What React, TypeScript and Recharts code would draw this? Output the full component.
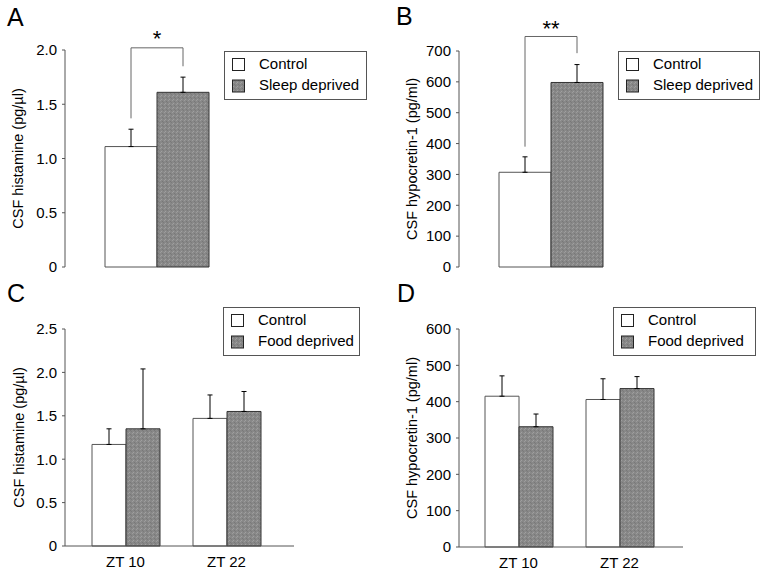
import React from "react";
import { BarChart, Bar, XAxis, YAxis, ErrorBar, Cell, ReferenceLine } from "recharts";

const FONT = "'Liberation Sans', Arial, Helvetica, sans-serif";

// A / B: sleep deprivation
const sleepGroups = ["Control", "Sleep deprived"];
const histamineSleep = [1.11, 1.61];
const histamineSleepSem = [0.16, 0.14];
const hypocretinSleep = [307, 598];
const hypocretinSleepSem = [50, 58];

// C / D: food deprivation
const ztLabels = ["ZT 10", "ZT 22"];
const foodGroups = ["Control", "Food deprived"];
const histamineControl = [1.17, 1.47];
const histamineControlSem = [0.18, 0.27];
const histamineFood = [1.35, 1.55];
const histamineFoodSem = [0.69, 0.23];
const hypocretinControl = [415, 406];
const hypocretinControlSem = [56, 57];
const hypocretinFood = [331, 436];
const hypocretinFoodSem = [35, 33];

const histamineSleepTicks = [0, 0.5, 1, 1.5, 2];
const hypocretinSleepTicks = [0, 100, 200, 300, 400, 500, 600, 700];
const histamineFoodTicks = [0, 0.5, 1, 1.5, 2, 2.5];
const hypocretinFoodTicks = [0, 100, 200, 300, 400, 500, 600];

// significance brackets: [left leg bottom, top, right leg bottom]
const histamineBracket = [1.37, 2.02, 1.85];
const hypocretinBracket = [390, 747, 693];

// gray bars are stippled in the original, so use a small grain pattern
const fills = ["#ffffff", "url(#grain)"];
const strokes = ["#555555", "#333333"];
const axisColor = "#555555";

const fmtDec = (v: number) => (v === 0 ? "0" : v.toFixed(1));
const fmtInt = (v: number) => String(v);

const yLabel = (value: string, x: number) => ({
  value,
  angle: -90,
  position: "insideLeft",
  offset: x,
  style: { textAnchor: "middle" },
  fontSize: 14.5,
  fill: "#000",
});

function KeyBox({ left, top, width, names }: any) {
  return (
    <svg style={{ position: "absolute", left, top }} width={width + 1} height={50}>
      <rect x={0.5} y={0.5} width={width} height={48} fill="#fff" stroke="#555" />
      {names.map((n: string, i: number) => (
        <g key={n}>
          <rect x={8.5} y={7.5 + i * 21.5} width={12} height={12} fill={fills[i]} stroke="#222" />
          <text x={35} y={18 + i * 21} fontSize={15} fontFamily={FONT} fill="#000">
            {n}
          </text>
        </g>
      ))}
    </svg>
  );
}

function SleepPanel(p: any) {
  const data = sleepGroups.map((g, i) => ({ group: g, value: p.values[i], err: [0, p.sem[i]] }));
  const t = p.ticks;
  const b = p.bracket;
  return (
    <div style={{ position: "absolute", left: p.left, top: p.top }}>
      <BarChart
        width={p.width}
        height={290}
        data={data}
        margin={{ top: p.plotTop, right: p.width - p.plotRight, bottom: 290 - p.plotBottom, left: 0 }}
        barCategoryGap={0}
      >
        <XAxis dataKey="group" tick={false} tickLine={false} height={0} axisLine={{ stroke: axisColor }} padding={p.pad} />
        <YAxis
          width={p.yWidth}
          domain={[t[0], t[t.length - 1]]}
          ticks={t}
          tickFormatter={p.fmt}
          tickSize={3}
          tickMargin={5}
          axisLine={{ stroke: axisColor }}
          tickLine={{ stroke: axisColor }}
          tick={{ fill: "#000", fontSize: 15 }}
          label={yLabel(p.label, p.labelX)}
        />
        <Bar dataKey="value" isAnimationActive={false}>
          {data.map((d, i) => (
            <Cell key={d.group} fill={fills[i]} stroke={strokes[i]} />
          ))}
          <ErrorBar dataKey="err" direction="y" width={2.5} stroke="#000" strokeWidth={1} />
        </Bar>
        <ReferenceLine
          segment={[{ x: sleepGroups[0], y: b[0] }, { x: sleepGroups[0], y: b[1] }]}
          stroke="#666"
          ifOverflow="visible"
        />
        <ReferenceLine
          segment={[{ x: sleepGroups[0], y: b[1] }, { x: sleepGroups[1], y: b[1] }]}
          stroke="#666"
          ifOverflow="visible"
          label={{ value: p.stars, position: "top", offset: p.starOffset, fontSize: 22, fill: "#000" }}
        />
        <ReferenceLine
          segment={[{ x: sleepGroups[1], y: b[2] }, { x: sleepGroups[1], y: b[1] }]}
          stroke="#666"
          ifOverflow="visible"
        />
      </BarChart>
    </div>
  );
}

function FoodPanel(p: any) {
  const data = ztLabels.map((zt, i) => ({
    zt,
    control: p.control[i],
    controlErr: [0, p.controlSem[i]],
    food: p.food[i],
    foodErr: [0, p.foodSem[i]],
  }));
  const t = p.ticks;
  return (
    <div style={{ position: "absolute", left: p.left, top: p.top }}>
      <BarChart
        width={p.width}
        height={290}
        data={data}
        margin={{ top: p.plotTop, right: p.width - p.plotRight, bottom: 290 - p.plotBottom - 25, left: 0 }}
        barGap={0}
        barSize={34}
      >
        <XAxis
          dataKey="zt"
          height={25}
          tickLine={false}
          tickSize={0}
          tickMargin={10}
          tick={{ fill: "#000", fontSize: 15 }}
          axisLine={{ stroke: axisColor }}
          padding={p.pad}
        />
        <YAxis
          width={p.yWidth}
          domain={[t[0], t[t.length - 1]]}
          ticks={t}
          tickFormatter={p.fmt}
          tickSize={3}
          tickMargin={5}
          axisLine={{ stroke: axisColor }}
          tickLine={{ stroke: axisColor }}
          tick={{ fill: "#000", fontSize: 15 }}
          label={yLabel(p.label, p.labelX)}
        />
        <Bar dataKey="control" name={foodGroups[0]} fill={fills[0]} stroke={strokes[0]} isAnimationActive={false}>
          <ErrorBar dataKey="controlErr" direction="y" width={2.5} stroke="#000" strokeWidth={1} />
        </Bar>
        <Bar dataKey="food" name={foodGroups[1]} fill={fills[1]} stroke={strokes[1]} isAnimationActive={false}>
          <ErrorBar dataKey="foodErr" direction="y" width={2.5} stroke="#000" strokeWidth={1} />
        </Bar>
      </BarChart>
    </div>
  );
}

export default function App() {
  return (
    <div
      style={{
        position: "absolute",
        left: 0,
        top: 0,
        width: 763,
        height: 575,
        background: "#fff",
        fontFamily: FONT,
      }}
    >
      <svg style={{ position: "absolute", left: 0, top: 0 }} width={763} height={575}>
        <defs>
          <pattern id="grain" width={4} height={4} patternUnits="userSpaceOnUse">
            <rect width={4} height={4} fill="#888888" />
            <rect x={0} y={0} width={1} height={1} fill="#9c9c9c" />
            <rect x={2} y={1} width={1} height={1} fill="#787878" />
            <rect x={1} y={3} width={1} height={1} fill="#a0a0a0" />
            <rect x={3} y={2} width={1} height={1} fill="#7b7b7b" />
          </pattern>
        </defs>
        <g fontSize={25} fontFamily={FONT} fill="#000">
          <text x={7} y={26}>A</text>
          <text x={396} y={25}>B</text>
          <text x={7} y={302}>C</text>
          <text x={397} y={302}>D</text>
        </g>
      </svg>

      <SleepPanel
        left={0}
        top={0}
        width={380}
        yWidth={65}
        plotTop={50}
        plotBottom={267}
        plotRight={248}
        pad={{ left: 40, right: 39 }}
        values={histamineSleep}
        sem={histamineSleepSem}
        ticks={histamineSleepTicks}
        fmt={fmtDec}
        bracket={histamineBracket}
        stars="*"
        starOffset={2}
        label="CSF histamine (pg/µl)"
        labelX={18}
      />
      <KeyBox left={224} top={51} width={142} names={sleepGroups} />

      <SleepPanel
        left={380}
        top={0}
        width={383}
        yWidth={79}
        plotTop={51}
        plotBottom={267}
        plotRight={262}
        pad={{ left: 40, right: 39 }}
        values={hypocretinSleep}
        sem={hypocretinSleepSem}
        ticks={hypocretinSleepTicks}
        fmt={fmtInt}
        bracket={hypocretinBracket}
        stars="**"
        starOffset={0}
        label="CSF hypocretin-1 (pg/ml)"
        labelX={32}
      />
      <KeyBox left={618} top={51} width={141} names={sleepGroups} />

      <FoodPanel
        left={0}
        top={285}
        width={380}
        yWidth={65}
        plotTop={44}
        plotBottom={261}
        plotRight={294}
        pad={{ left: 10, right: 17 }}
        control={histamineControl}
        controlSem={histamineControlSem}
        food={histamineFood}
        foodSem={histamineFoodSem}
        ticks={histamineFoodTicks}
        fmt={fmtDec}
        label="CSF histamine (pg/µl)"
        labelX={19}
      />
      <KeyBox left={223} top={307} width={136} names={foodGroups} />

      <FoodPanel
        left={380}
        top={285}
        width={383}
        yWidth={79}
        plotTop={44}
        plotBottom={262}
        plotRight={303}
        pad={{ left: 9, right: 13 }}
        control={hypocretinControl}
        controlSem={hypocretinControlSem}
        food={hypocretinFood}
        foodSem={hypocretinFoodSem}
        ticks={hypocretinFoodTicks}
        fmt={fmtInt}
        label="CSF hypocretin-1 (pg/ml)"
        labelX={32}
      />
      <KeyBox left={613} top={307} width={142} names={foodGroups} />
    </div>
  );
}
